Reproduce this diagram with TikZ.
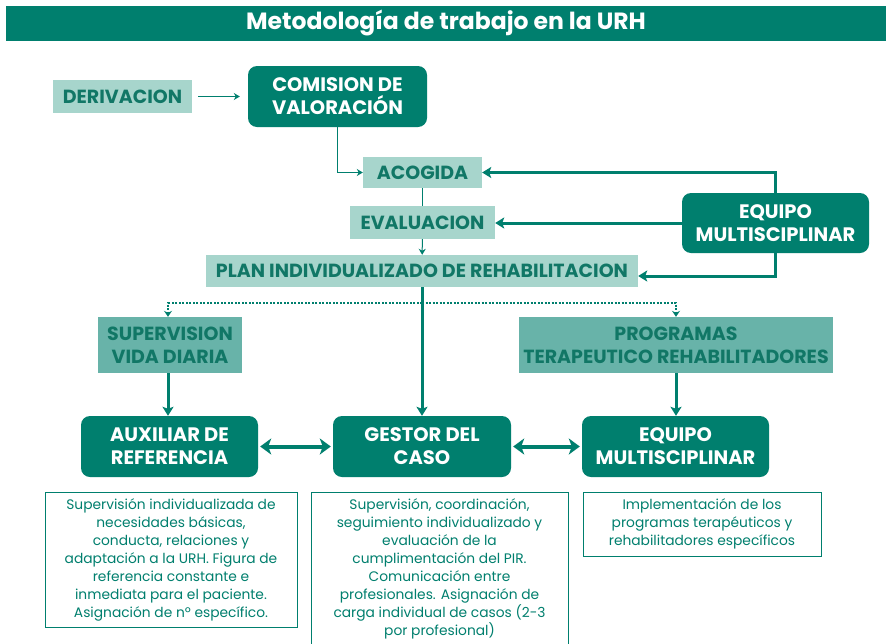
\documentclass[tikz,border=0pt]{standalone}
\usepackage{fontspec}
\setmainfont{Poppins}
\usetikzlibrary{arrows.meta}
\definecolor{dk}{HTML}{007F6E}
\definecolor{lt}{HTML}{A7D5CC}
\definecolor{md}{HTML}{68B3A9}
\definecolor{tx}{HTML}{117766}
\begin{document}
\begin{tikzpicture}[x=1pt,y=-1pt,
  darkbox/.style={fill=dk, rounded corners=9pt, text=white, align=center, inner sep=0pt,
    font=\bfseries\fontsize{19.5}{23}\selectfont},
  lightbox/.style={fill=lt, text=tx, align=center, inner sep=0pt,
    font=\bfseries\fontsize{19}{23}\selectfont},
  midbox/.style={fill=md, text=tx, align=center, inner sep=0pt,
    font=\bfseries\fontsize{19}{23}\selectfont},
  descbox/.style={draw=dk, line width=1pt, fill=white, text=dk, align=center, inner sep=0pt,
    font=\fontsize{13.8}{18}\selectfont},
  thinarrow/.style={draw=dk, line width=1pt, -{Stealth[length=6pt,width=7pt]}},
  thinline/.style={draw=dk, line width=1pt},
  thickarrow/.style={draw=dk, line width=3pt, -{Stealth[length=9pt,width=11pt,inset=2pt]}},
  dblarrow/.style={draw=dk, line width=4pt, {Stealth[length=11pt,width=16pt,inset=3pt]}-{Stealth[length=11pt,width=16pt,inset=3pt]}},
  dotarrow/.style={draw=dk, line width=2.5pt, dash pattern=on 2pt off 1.5pt, -{Stealth[length=6pt,width=8pt]}}
]
\clip (0,0) rectangle (886,643);
\fill[white] (0,0) rectangle (886,643);
% title
\node[fill=dk, minimum width=880pt, minimum height=35pt, inner sep=0pt, text=white,
  font=\bfseries\fontsize{23.5}{26}\selectfont] (title) at (446,23) {Metodología de trabajo en la URH};
% top part
\node[lightbox, minimum width=139pt, minimum height=33pt] (der) at (122.5,96.5) {DERIVACION};
\node[darkbox, minimum width=179pt, minimum height=61pt] (com) at (337.5,96.5) {COMISION DE\\VALORACIÓN};
\node[lightbox, minimum width=119pt, minimum height=31pt] (aco) at (422.5,172.5) {ACOGIDA};
\node[lightbox, minimum width=145pt, minimum height=33pt] (eva) at (422.5,222.5) {EVALUACION};
\node[lightbox, minimum width=432pt, minimum height=32pt] (plan) at (422,271) {PLAN INDIVIDUALIZADO DE REHABILITACION};
\node[darkbox, minimum width=187pt, minimum height=60pt] (eq1) at (775.5,223) {EQUIPO\\MULTISCIPLINAR};
% middle
\node[midbox, minimum width=144pt, minimum height=56pt] (sup) at (170,345) {SUPERVISION\\VIDA DIARIA};
\node[midbox, minimum width=314pt, minimum height=56pt] (prog) at (676,345) {PROGRAMAS\\TERAPEUTICO REHABILITADORES};
\node[darkbox, minimum width=177pt, minimum height=61pt] (aux) at (169.5,446.5) {AUXILIAR DE\\REFERENCIA};
\node[darkbox, minimum width=178pt, minimum height=61pt] (ges) at (422,446.5) {GESTOR DEL\\CASO};
\node[darkbox, minimum width=187pt, minimum height=61pt] (eq2) at (675.5,446.5) {EQUIPO\\MULTISCIPLINAR};
% descriptions
\node[descbox, minimum width=252pt, minimum height=135pt] (d1) at (171,559.5)
 {Supervisión individualizada de\\necesidades básicas,\\conducta, relaciones y\\adaptación a la URH. Figura de\\referencia constante e\\inmediata para el paciente.\\Asignación de nº específico.};
\draw[dk, line width=1pt, fill=white] (311,660) -- (311,492) -- (568,492) -- (568,660);
\node[text=dk, align=center, inner sep=0pt, font=\fontsize{13.8}{18}\selectfont] (d2) at (439.5,569)
 {Supervisión, coordinación,\\seguimiento  individualizado y\\evaluación de la\\cumplimentación del PIR.\\Comunicación entre\\profesionales. Asignación de\\carga individual de casos (2-3\\por profesional)};
\node[descbox, minimum width=238pt, minimum height=64pt] (d3) at (702,524)
 {Implementación de los\\programas terapéuticos y\\rehabilitadores específicos};
% connectors
\draw[thinarrow, shorten <=6pt, shorten >=8pt] (der) -- (com);
\draw[thinarrow] (com.south) |- (aco.west);
\draw[thinline] (aco) -- (eva);
\draw[thinarrow] (eva) -- (plan);
\draw[thickarrow] (eq1.north) |- (aco.east);
\draw[thickarrow] (eq1.west) -- (eq1.west -| eva.east);
\draw[thickarrow] (eq1.south) |- ([yshift=-5pt]plan.east);
\draw[thickarrow] (plan.south) -- (ges.north);
\coordinate (dm) at (plan.south |- 0,303);
\draw[dotarrow] (dm) -| ([xshift=-2pt]sup.north);
\draw[dotarrow] (dm) -| (prog.north);
\draw[thickarrow] ([xshift=-2pt]sup.south) -- ([xshift=-1.5pt]aux.north);
\draw[thickarrow] (prog.south) -- (prog.south |- eq2.north);
\draw[dblarrow, shorten <=2pt, shorten >=2pt] (aux) -- (ges);
\draw[dblarrow, shorten <=2pt, shorten >=2pt] (ges) -- (eq2);
\end{tikzpicture}
\end{document}
